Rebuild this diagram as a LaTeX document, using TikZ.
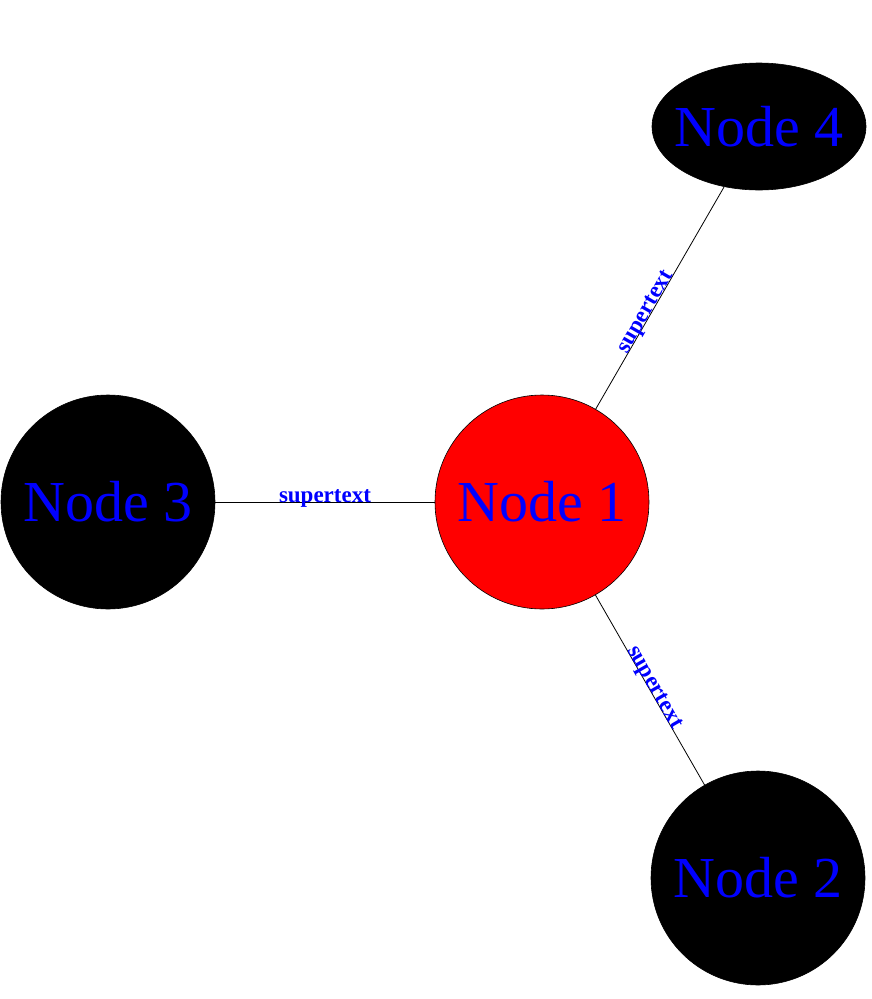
\documentclass[tikz,border=0pt]{standalone}
\usepackage{fontspec}
\setmainfont{Liberation Serif}
\usetikzlibrary{shapes.geometric}
\begin{document}
\begin{tikzpicture}[x=1pt,y=1pt,
  gnode/.style={circle,draw=black,line width=0.6pt,inner sep=0pt,minimum size=214pt,
    text=blue,font=\fontsize{58}{60}\selectfont},
  enode/.style={ellipse,draw=black,line width=0.6pt,inner sep=0pt,minimum width=214pt,minimum height=127pt,
    text=blue,font=\fontsize{58}{60}\selectfont},
  conn/.style={draw=black,line width=0.8pt},
  elabel/.style={sloped,anchor=base,inner sep=0pt,text=blue,font=\fontsize{23}{25}\selectfont\bfseries}]
\useasboundingbox (0,0) rectangle (872,-999);
\node[gnode,fill=red] (n1) at (542,-502) {Node 1};
\node[gnode,fill=black] (n2) at (758,-878) {Node 2};
\node[gnode,fill=black] (n3) at (108,-502) {Node 3};
\node[enode,fill=black] (n4) at (759,-126.5) {\makebox[0pt]{Node 4}};
\path[conn] (n3) -- (n1);
\path[conn] (n1) -- (n4);
\path[conn] (n1) -- (n2);
\path (n3.center) -- node[elabel] {supertext} (n1.center);
\path (n1.center) -- node[elabel] {supertext} (n4.center);
\path (n1.center) -- node[elabel] {supertext} (n2.center);
\end{tikzpicture}
\end{document}
